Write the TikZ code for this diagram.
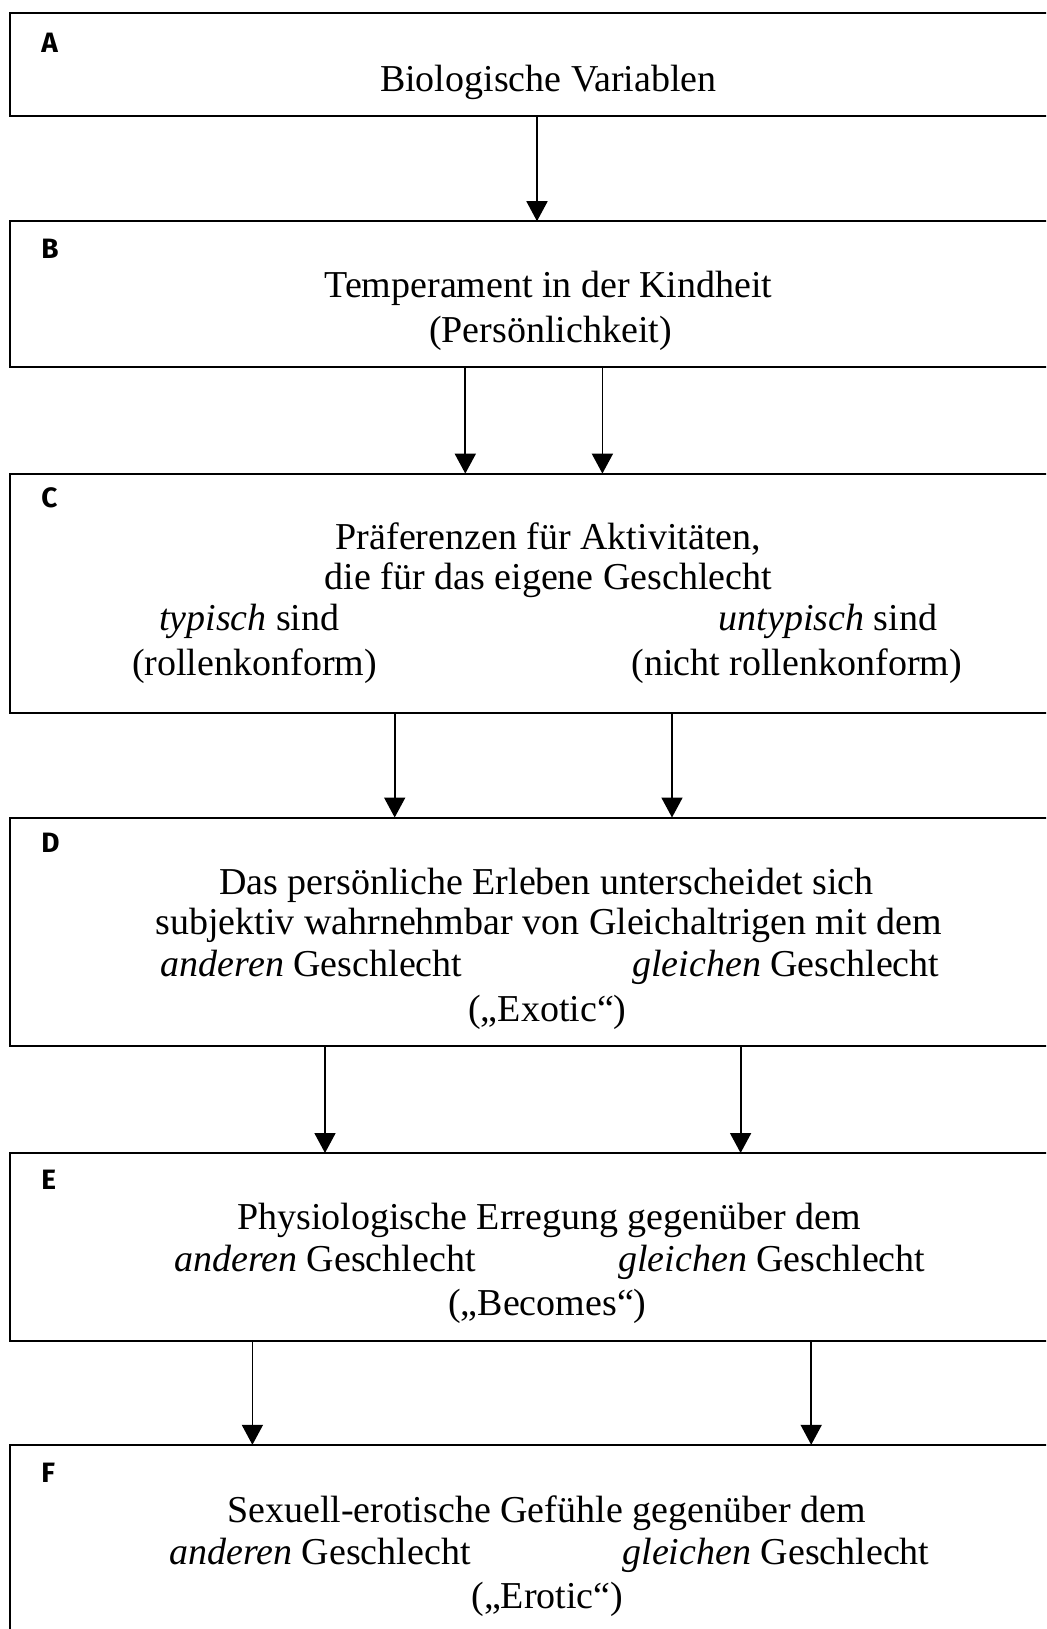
\documentclass[tikz,border=0pt]{standalone}
\usepackage{fontspec}
\setmainfont{Liberation Serif}
\newfontfamily\labfont{Fira Sans}
\usetikzlibrary{arrows.meta}
\begin{document}
\begin{tikzpicture}[x=0.5pt,y=-0.5pt,
 box/.style={draw, line width=1pt, minimum width=524.8pt, inner sep=0pt, outer sep=0pt},
 lab/.style={font=\labfont\bfseries\fontsize{14}{16}\selectfont, anchor=base west, inner sep=0pt},
 txt/.style={font=\fontsize{19}{22}\selectfont, anchor=base, inner sep=0pt},
 arr/.style={line width=0.9pt, -{Triangle[length=10pt,width=10.5pt]}}]
\useasboundingbox (0,0) rectangle (1046,1629);
\clip (0,0) rectangle (1046,1629);
\fill[white] (0,0) rectangle (1046,1629);
% boxes
\node[box, minimum height=51.9pt]  (A) at (535.2,64.4) {};
\node[box, minimum height=72.75pt] (B) at (535.2,293.95) {};
\node[box, minimum height=119.45pt] (C) at (535.2,593.05) {};
\node[box, minimum height=114.25pt] (D) at (535.2,931.75) {};
\node[box, minimum height=94pt] (E) at (535.2,1247) {};
\node[box, minimum height=97.6pt] (F) at (535.2,1542.4) {};
% labels
\node[lab] (lA) at (41,52) {A};
\node[lab] (lB) at (41,258) {B};
\node[lab] (lC) at (41,507) {C};
\node[lab] (lD) at (41,852) {D};
\node[lab] (lE) at (41,1189) {E};
\node[lab] (lF) at (41,1482) {F};
% texts
\node[txt] (a1) at (548.4,91) {Biologische Variablen};
\node[txt] (b1) at (548.4,297) {Temperament in der Kindheit};
\node[txt] (b2) at (550.5,342) {(Persönlichkeit)};
\node[txt] (c1) at (548.4,549) {Präferenzen für Aktivitäten,};
\node[txt] (c2) at (548.4,589) {die für das eigene Geschlecht};
\node[txt] (c3) at (249.3,630) {\textit{typisch} sind};
\node[txt] (c4) at (828,630) {\textit{untypisch} sind};
\node[txt] (c5) at (254.5,675) {(rollenkonform)};
\node[txt] (c6) at (796.7,675) {(nicht rollenkonform)};
\node[txt] (d1) at (546.4,894) {Das persönliche Erleben unterscheidet sich};
\node[txt] (d2) at (548.4,934) {subjektiv wahrnehmbar von Gleichaltrigen mit dem};
\node[txt] (d3) at (311.6,976) {\textit{anderen} Geschlecht};
\node[txt] (d4) at (785.8,976) {\textit{gleichen} Geschlecht};
\node[txt] (d5) at (547.4,1021) {(„Exotic“)};
\node[txt] (e1) at (549,1229) {Physiologische Erregung gegenüber dem};
\node[txt] (e2) at (325,1271) {\textit{anderen} Geschlecht};
\node[txt] (e3) at (771.8,1271) {\textit{gleichen} Geschlecht};
\node[txt] (e4) at (547.4,1315) {(„Becomes“)};
\node[txt] (f1) at (546.4,1522) {Sexuell-erotische Gefühle gegenüber dem};
\node[txt] (f2) at (320,1564) {\textit{anderen} Geschlecht};
\node[txt] (f3) at (776,1564) {\textit{gleichen} Geschlecht};
\node[txt] (f4) at (547.4,1608) {(„Erotic“)};
% arrow x positions
\coordinate (xAB) at (537,0);
\coordinate (xBC1) at (465.3,0);
\coordinate (xBC2) at (602.4,0);
\coordinate (xCD1) at (394.7,0);
\coordinate (xCD2) at (672,0);
\coordinate (xDE1) at (325,0);
\coordinate (xDE2) at (740.6,0);
\coordinate (xEF1) at (252.4,0);
\coordinate (xEF2) at (811.2,0);
% arrows
\draw[arr] (A.south -| xAB) -- (B.north -| xAB);
\draw[arr] (B.south -| xBC1) -- (C.north -| xBC1);
\draw[arr] (B.south -| xBC2) -- (C.north -| xBC2);
\draw[arr] (C.south -| xCD1) -- (D.north -| xCD1);
\draw[arr] (C.south -| xCD2) -- (D.north -| xCD2);
\draw[arr] (D.south -| xDE1) -- (E.north -| xDE1);
\draw[arr] (D.south -| xDE2) -- (E.north -| xDE2);
\draw[arr] (E.south -| xEF1) -- (F.north -| xEF1);
\draw[arr] (E.south -| xEF2) -- (F.north -| xEF2);
\end{tikzpicture}
\end{document}
